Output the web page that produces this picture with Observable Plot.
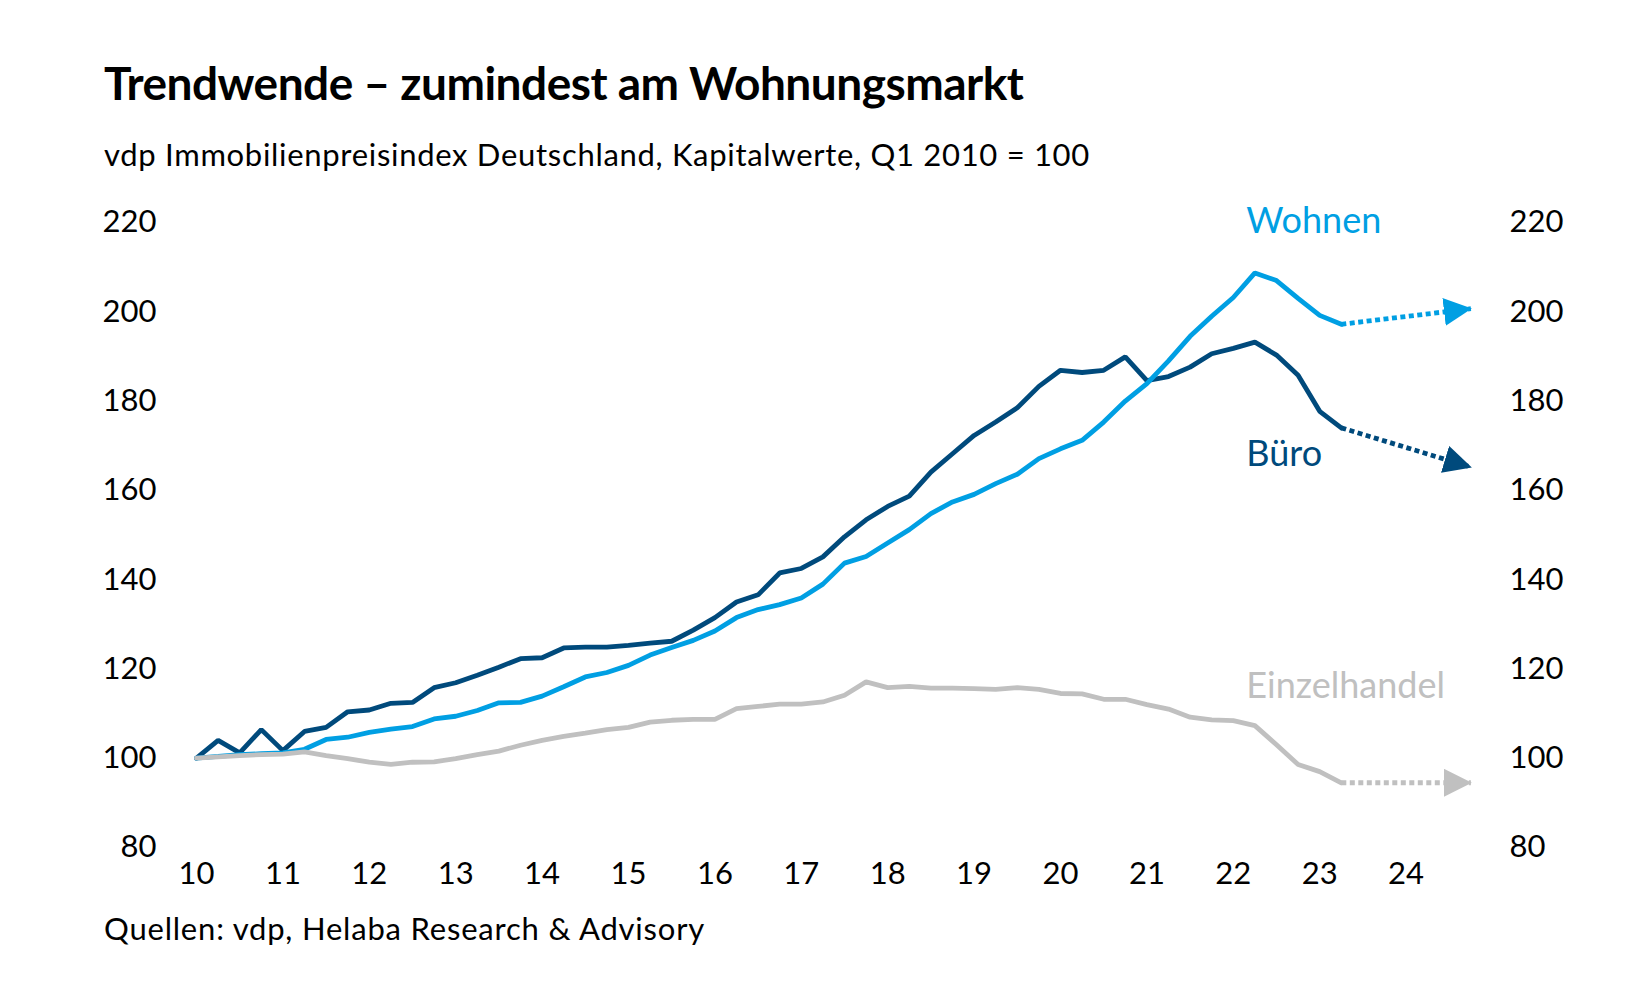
<!DOCTYPE html>
<html>
<head>
<meta charset="utf-8">
<script src="https://cdn.jsdelivr.net/npm/d3@7"></script>
<script src="https://cdn.jsdelivr.net/npm/@observablehq/plot@0.6"></script>
<style>
  html, body { margin: 0; padding: 0; background: #fff; }
  #wrap { position: relative; width: 1650px; height: 1000px; font-family: Lato, "Noto Sans", sans-serif; color: #000; }
  #title { position: absolute; left: 104px; top: 60px; font-size: 46px; font-weight: 700; line-height: 1; white-space: nowrap; letter-spacing: -0.5px; }
  #subtitle { position: absolute; left: 104px; top: 139px; font-size: 31px; line-height: 1; white-space: nowrap; letter-spacing: 0.7px; }
  #chart { position: absolute; left: 0; top: 180px; }
  #caption { position: absolute; left: 104px; top: 913px; font-size: 31px; line-height: 1; white-space: nowrap; letter-spacing: 0.8px; }
</style>
</head>
<body>
<div id="wrap">
  <div id="title">Trendwende – zumindest am Wohnungsmarkt</div>
  <div id="subtitle">vdp Immobilienpreisindex Deutschland, Kapitalwerte, Q1 2010 = 100</div>
  <div id="chart"></div>
  <div id="caption">Quellen: vdp, Helaba Research &amp; Advisory</div>
</div>
<script>
// ---- Data ----
const quarters = [
  "2010Q1","2010Q2","2010Q3","2010Q4","2011Q1","2011Q2","2011Q3","2011Q4",
  "2012Q1","2012Q2","2012Q3","2012Q4","2013Q1","2013Q2","2013Q3","2013Q4",
  "2014Q1","2014Q2","2014Q3","2014Q4","2015Q1","2015Q2","2015Q3","2015Q4",
  "2016Q1","2016Q2","2016Q3","2016Q4","2017Q1","2017Q2","2017Q3","2017Q4",
  "2018Q1","2018Q2","2018Q3","2018Q4","2019Q1","2019Q2","2019Q3","2019Q4",
  "2020Q1","2020Q2","2020Q3","2020Q4","2021Q1","2021Q2","2021Q3","2021Q4",
  "2022Q1","2022Q2","2022Q3","2022Q4","2023Q1","2023Q2"
];
const seriesNames = ["Büro", "Wohnen", "Einzelhandel"];
const seriesColors = ["#004a7c", "#009fe3", "#c0c0c0"];
const buero = [
  100, 104.0, 101.2, 106.4, 101.7, 106.0, 106.9, 110.4, 110.8, 112.3, 112.5, 115.8,
  116.9, 118.6, 120.4, 122.3, 122.5, 124.7, 124.9, 124.9, 125.3, 125.8, 126.2, 128.7,
  131.5, 135.0, 136.6, 141.5, 142.5, 145.1, 149.6, 153.4, 156.4, 158.7, 164.1, 168.2,
  172.3, 175.3, 178.5, 183.3, 186.9, 186.4, 186.9, 189.9, 184.6, 185.5, 187.6, 190.6,
  191.8, 193.2, 190.3, 185.8, 177.7, 174.0
];
const wohnen = [
  100, 100.4, 100.8, 101.0, 101.2, 102.0, 104.2, 104.7, 105.8, 106.5, 107.1, 108.8,
  109.4, 110.7, 112.4, 112.5, 113.9, 116.0, 118.2, 119.2, 120.8, 123.1, 124.8, 126.4,
  128.5, 131.5, 133.3, 134.4, 135.9, 139.0, 143.7, 145.2, 148.2, 151.2, 154.8, 157.4,
  159.1, 161.5, 163.6, 167.1, 169.3, 171.2, 175.3, 180.0, 183.9, 189.0, 194.5, 199.0,
  203.2, 208.7, 207.0, 203.0, 199.2, 197.2
];
const einzelhandel = [
  100, 100.3, 100.6, 100.8, 100.9, 101.4, 100.6, 99.9, 99.1, 98.6, 99.1, 99.2,
  99.9, 100.8, 101.6, 102.9, 104.0, 104.9, 105.6, 106.4, 106.9, 108.1, 108.5, 108.7,
  108.7, 111.1, 111.6, 112.1, 112.1, 112.6, 114.1, 117.1, 115.8, 116.1, 115.7, 115.7,
  115.6, 115.4, 115.8, 115.4, 114.5, 114.4, 113.2, 113.2, 112.0, 111.0, 109.2, 108.6,
  108.4, 107.3, 103.0, 98.6, 97.0, 94.5
];
// Forecast arrows (from last actual quarter to end of 2024)
const forecastFrom = "2023Q2";
const forecastTo = "2024Q4";
const forecastBuero = [174.0, 165.2];
const forecastWohnen = [197.2, 200.7];
const forecastEinzelhandel = [94.5, 94.5];
// Direct series labels (anchor quarter and index level)
const labelNames = ["Wohnen", "Büro", "Einzelhandel"];
const labelQuarter = "2022Q1";
const labelLevels = [220.5, 168.2, 116.3];
// Axis ticks
const xTickYears = [2010, 2011, 2012, 2013, 2014, 2015, 2016, 2017, 2018, 2019, 2020, 2021, 2022, 2023, 2024];
const xTickLabels = ["10", "11", "12", "13", "14", "15", "16", "17", "18", "19", "20", "21", "22", "23", "24"];
const yTicks = [80, 100, 120, 140, 160, 180, 200, 220];

// ---- Build tables ----
const toYear = s => +s.slice(0, 4) + (+s.slice(5) - 1) / 4;
const seriesValues = [buero, wohnen, einzelhandel];
const forecasts = [forecastBuero, forecastWohnen, forecastEinzelhandel];
const rows = [];
seriesNames.forEach((name, i) => seriesValues[i].forEach((v, j) => rows.push({series: name, x: toYear(quarters[j]), y: v})));
const fc = seriesNames.map((name, i) => ({series: name, x1: toYear(forecastFrom), y1: forecasts[i][0], x2: toYear(forecastTo), y2: forecasts[i][1]}));
const labels = labelNames.map((name, i) => ({series: name, x: toYear(labelQuarter), y: labelLevels[i]}));

const chart = Plot.plot({
  width: 1650,
  height: 720,
  marginLeft: 196,
  marginRight: 158,
  marginTop: 42,
  marginBottom: 53,
  style: {fontFamily: "Lato, 'Noto Sans', sans-serif", fontSize: "31px", color: "#000", background: "#fff", overflow: "visible"},
  x: {domain: [2010, 2025]},
  y: {domain: [80, 220]},
  color: {domain: seriesNames, range: seriesColors},
  marks: [
    Plot.axisX({ticks: xTickYears, tickFormat: d => xTickLabels[xTickYears.indexOf(d)], tickSize: 0, tickPadding: 14, label: null}),
    Plot.axisY({anchor: "left", ticks: yTicks, tickSize: 0, tickPadding: 40, label: null}),
    Plot.axisY({anchor: "right", ticks: yTicks, tickSize: 0, tickPadding: 17, label: null}),
    Plot.line(rows, {x: "x", y: "y", z: "series", stroke: "series", strokeWidth: 4.8, strokeLinejoin: "miter"}),
    Plot.link(fc, {x1: "x1", y1: "y1", x2: "x2", y2: "y2", stroke: "series", strokeWidth: 4.8, strokeDasharray: "5,3.5"}),
    Plot.text(labels, {x: "x", y: "y", text: "series", fill: "series", textAnchor: "start", fontSize: 36, dx: 13, dy: 1})
  ]
});

// filled arrowheads on forecast links
const svg = d3.select(chart);
const defs = svg.insert("defs", ":first-child");
svg.selectAll("g[aria-label=link] path").each(function(d, i) {
  const color = d3.select(this).attr("stroke");
  const id = "arrowhead" + i;
  defs.append("marker")
    .attr("id", id)
    .attr("markerUnits", "userSpaceOnUse")
    .attr("markerWidth", 28).attr("markerHeight", 28)
    .attr("viewBox", "0 0 28 28")
    .attr("refX", 27).attr("refY", 14)
    .attr("orient", "auto")
    .append("path").attr("d", "M0,0L28,14L0,28Z").attr("fill", color).attr("stroke", "none");
  d3.select(this).attr("marker-end", `url(#${id})`);
});

document.getElementById("chart").appendChild(chart);
</script>
</body>
</html>
